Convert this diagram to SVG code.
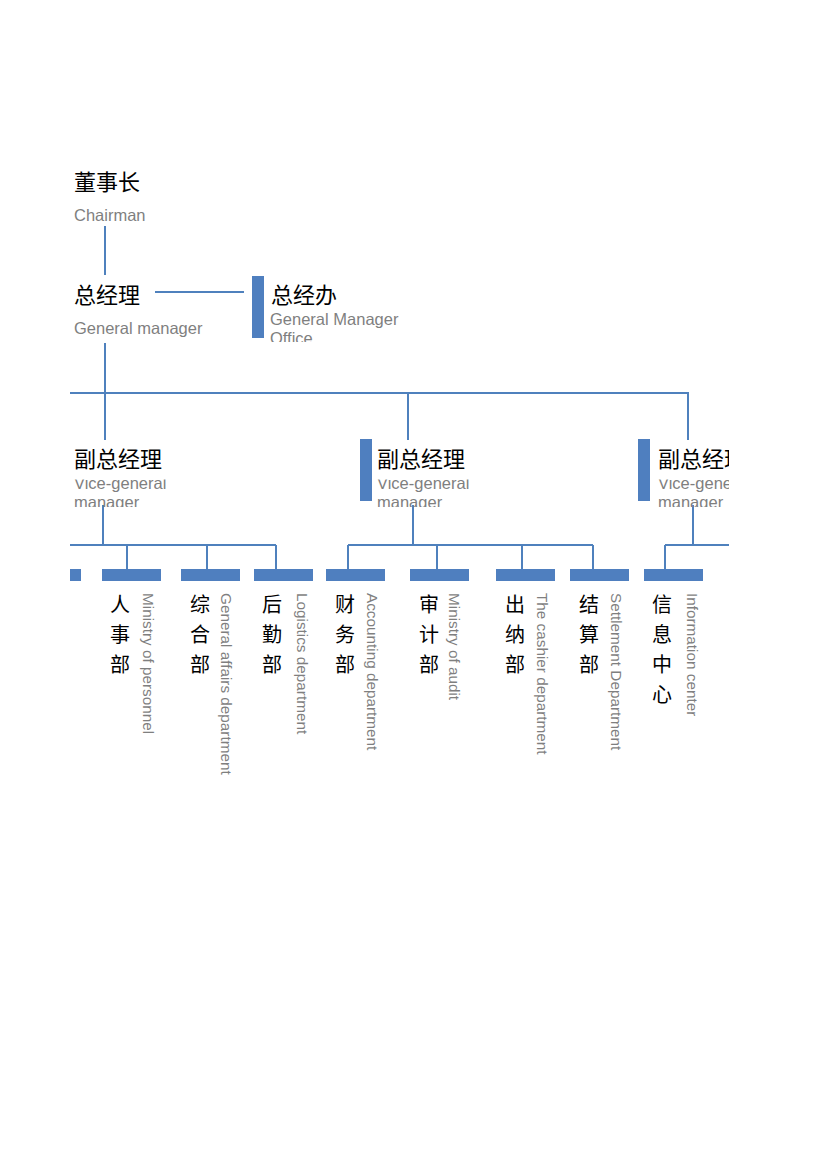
<svg xmlns="http://www.w3.org/2000/svg" width="827" height="1170" viewBox="0 0 827 1170">
<style>
.cn{font-family:"Noto Sans CJK SC","Noto Sans CJK JP",sans-serif;font-size:22px;fill:#000}
.cv{font-family:"Noto Sans CJK SC","Noto Sans CJK JP",sans-serif;font-size:20px;fill:#000;text-anchor:middle}
.en{font-family:"Liberation Sans",Arial,sans-serif;font-size:16.5px;fill:#7f7f7f}
.ev{font-family:"Liberation Sans",Arial,sans-serif;font-size:15.3px;fill:#7f7f7f}
.ln{stroke:#4f81bd;stroke-width:2;fill:none}
.bar{fill:#4f7fbf}
</style>
<defs>
<clipPath id="page"><rect x="70" y="0" width="659" height="1170"/></clipPath>
<clipPath id="gmo"><rect x="265" y="313" width="200" height="29"/></clipPath>
<clipPath id="vpc"><rect x="60" y="479.5" width="700" height="27.5"/></clipPath>
</defs>
<rect width="827" height="1170" fill="#fff"/>
<g clip-path="url(#page)">
<g id="connectors">
<path class="ln" d="M105 226V275"/>
<path class="ln" d="M155 292H244"/>
<path class="ln" d="M105 343V440"/>
<path class="ln" d="M60 393H688V440M408 393V440"/>
<path class="ln" d="M103 505V545M60 545H276M127 545V570M207 545V570M276 545V570"/>
<path class="ln" d="M413 505V545M348 545H593M348 545V570M437 545V570M522 545V570M593 545V570"/>
<path class="ln" d="M693 505V545M665 545H740M665 545V570"/>
</g>
<g id="chairman">
<text class="cn" x="74" y="190">董事长</text>
<text class="en" x="74" y="221">Chairman</text>
</g>
<g id="gm">
<text class="cn" x="74" y="303">总经理</text>
<text class="en" x="74" y="334">General manager</text>
</g>
<g id="gmoffice">
<rect class="bar" x="252" y="276" width="12" height="62"/>
<text class="cn" x="271" y="303">总经办</text>
<g clip-path="url(#gmo)">
<text class="en" x="270" y="325">General Manager</text>
<text class="en" x="270" y="344">Office</text>
</g>
</g>
<g id="vp1">
<text class="cn" x="74" y="467">副总经理</text>
<g clip-path="url(#vpc)">
<text class="en" x="74" y="489">Vice-general</text>
<text class="en" x="74" y="508">manager</text>
</g>
</g>
<g id="vp2">
<rect class="bar" x="360" y="439" width="12" height="62"/>
<text class="cn" x="377" y="467">副总经理</text>
<g clip-path="url(#vpc)">
<text class="en" x="377" y="489">Vice-general</text>
<text class="en" x="377" y="508">manager</text>
</g>
</g>
<g id="vp3">
<rect class="bar" x="638" y="439" width="12" height="62"/>
<text class="cn" x="658" y="467">副总经理</text>
<g clip-path="url(#vpc)">
<text class="en" x="658" y="489">Vice-general</text>
<text class="en" x="658" y="508">manager</text>
</g>
</g>
<g id="dept0">
<rect class="bar" x="60" y="569" width="21" height="12"/>
</g>
<g id="dept-personnel">
<rect class="bar" x="102" y="569" width="59" height="12"/>
<text class="cv" x="120" y="612">人</text>
<text class="cv" x="120" y="642">事</text>
<text class="cv" x="120" y="672">部</text>
<text class="ev" transform="translate(143 593) rotate(90)">Ministry of personnel</text>
</g>
<g id="dept-general">
<rect class="bar" x="181" y="569" width="59" height="12"/>
<text class="cv" x="200" y="612">综</text>
<text class="cv" x="200" y="642">合</text>
<text class="cv" x="200" y="672">部</text>
<text class="ev" transform="translate(221 593) rotate(90)">General affairs department</text>
</g>
<g id="dept-logistics">
<rect class="bar" x="254" y="569" width="59" height="12"/>
<text class="cv" x="272" y="612">后</text>
<text class="cv" x="272" y="642">勤</text>
<text class="cv" x="272" y="672">部</text>
<text class="ev" transform="translate(297 593) rotate(90)">Logistics department</text>
</g>
<g id="dept-accounting">
<rect class="bar" x="326" y="569" width="59" height="12"/>
<text class="cv" x="345" y="612">财</text>
<text class="cv" x="345" y="642">务</text>
<text class="cv" x="345" y="672">部</text>
<text class="ev" transform="translate(367 593) rotate(90)">Accounting department</text>
</g>
<g id="dept-audit">
<rect class="bar" x="410" y="569" width="59" height="12"/>
<text class="cv" x="429" y="612">审</text>
<text class="cv" x="429" y="642">计</text>
<text class="cv" x="429" y="672">部</text>
<text class="ev" transform="translate(449 593) rotate(90)">Ministry of audit</text>
</g>
<g id="dept-cashier">
<rect class="bar" x="496" y="569" width="59" height="12"/>
<text class="cv" x="515" y="612">出</text>
<text class="cv" x="515" y="642">纳</text>
<text class="cv" x="515" y="672">部</text>
<text class="ev" transform="translate(537 593) rotate(90)">The cashier department</text>
</g>
<g id="dept-settlement">
<rect class="bar" x="570" y="569" width="59" height="12"/>
<text class="cv" x="589" y="612">结</text>
<text class="cv" x="589" y="642">算</text>
<text class="cv" x="589" y="672">部</text>
<text class="ev" transform="translate(611 593) rotate(90)">Settlement Department</text>
</g>
<g id="dept-info">
<rect class="bar" x="644" y="569" width="59" height="12"/>
<text class="cv" x="662" y="612">信</text>
<text class="cv" x="662" y="642">息</text>
<text class="cv" x="662" y="672">中</text>
<text class="cv" x="662" y="702">心</text>
<text class="ev" transform="translate(687 593) rotate(90)">Information center</text>
</g>
</g>
</svg>
